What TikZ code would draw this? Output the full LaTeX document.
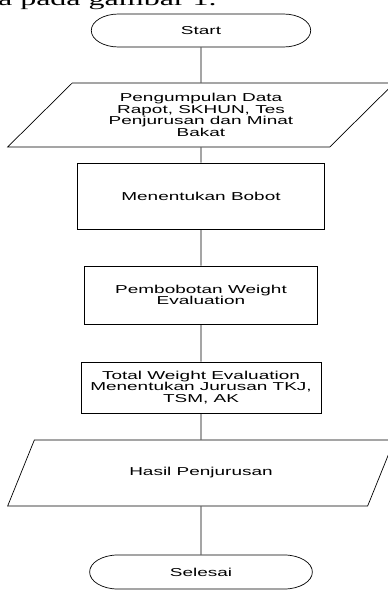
\documentclass[tikz,border=0pt]{standalone}
\usepackage{fontspec}
\usepackage{tikz}
\usetikzlibrary{shapes.geometric, shapes.misc}
\newfontfamily\arialfont{Liberation Sans}
\newfontfamily\timesfont{Liberation Serif}
\tikzstyle{base} = [draw, line width=0.7pt, xscale=1.65, inner sep=0pt, align=center, font=\arialfont\fontsize{11.5}{11.6}\selectfont]
\tikzstyle{term} = [base, rounded rectangle, minimum height=33pt]
\tikzstyle{io} = [base, trapezium, trapezium left angle=57, trapezium right angle=123, trapezium stretches=true, minimum width=235pt]
\tikzstyle{process} = [base, rectangle]
\tikzstyle{link} = [line width=0.7pt]

\begin{document}
\begin{tikzpicture}[x=1pt, y=-1pt]
        \useasboundingbox (0,0) rectangle (388,592);
        \node (caption) [anchor=base east, inner sep=0pt, xscale=1.65, font=\timesfont\fontsize{19.4}{20}\selectfont] at (217,5) {a pada gambar 1.};
        \node (start) [term, minimum width=133pt] at (201,30.5) {Start};
        \node (data) [io, minimum height=64pt] at (201,115) {Pengumpulan Data\\Rapot, SKHUN, Tes\\Penjurusan dan Minat\\Bakat};
        \node (bobot) [process, minimum width=150pt, minimum height=66pt] at (201,196) {\raisebox{-3pt}{Menentukan Bobot}};
        \node (pembobotan) [process, minimum width=141pt, minimum height=58pt] at (201,295) {Pembobotan Weight\\Evaluation};
        \node (total) [process, minimum width=145.5pt, minimum height=51pt] at (201,387.5) {Total Weight Evaluation\\Menentukan Jurusan TKJ,\\TSM, AK};
        \node (hasil) [io, minimum height=66pt] at (201,473) {Hasil Penjurusan};
        \node (selesai) [term, minimum width=135pt, minimum height=34pt] at (201,572) {Selesai};
        \draw [link] (start) -- (data);
        \draw [link] (data) -- (bobot);
        \draw [link] (bobot) -- (pembobotan);
        \draw [link] (pembobotan) -- (total);
        \draw [link] (total) -- (hasil);
        \draw [link] (hasil) -- (selesai);
    \end{tikzpicture}
\end{document}
